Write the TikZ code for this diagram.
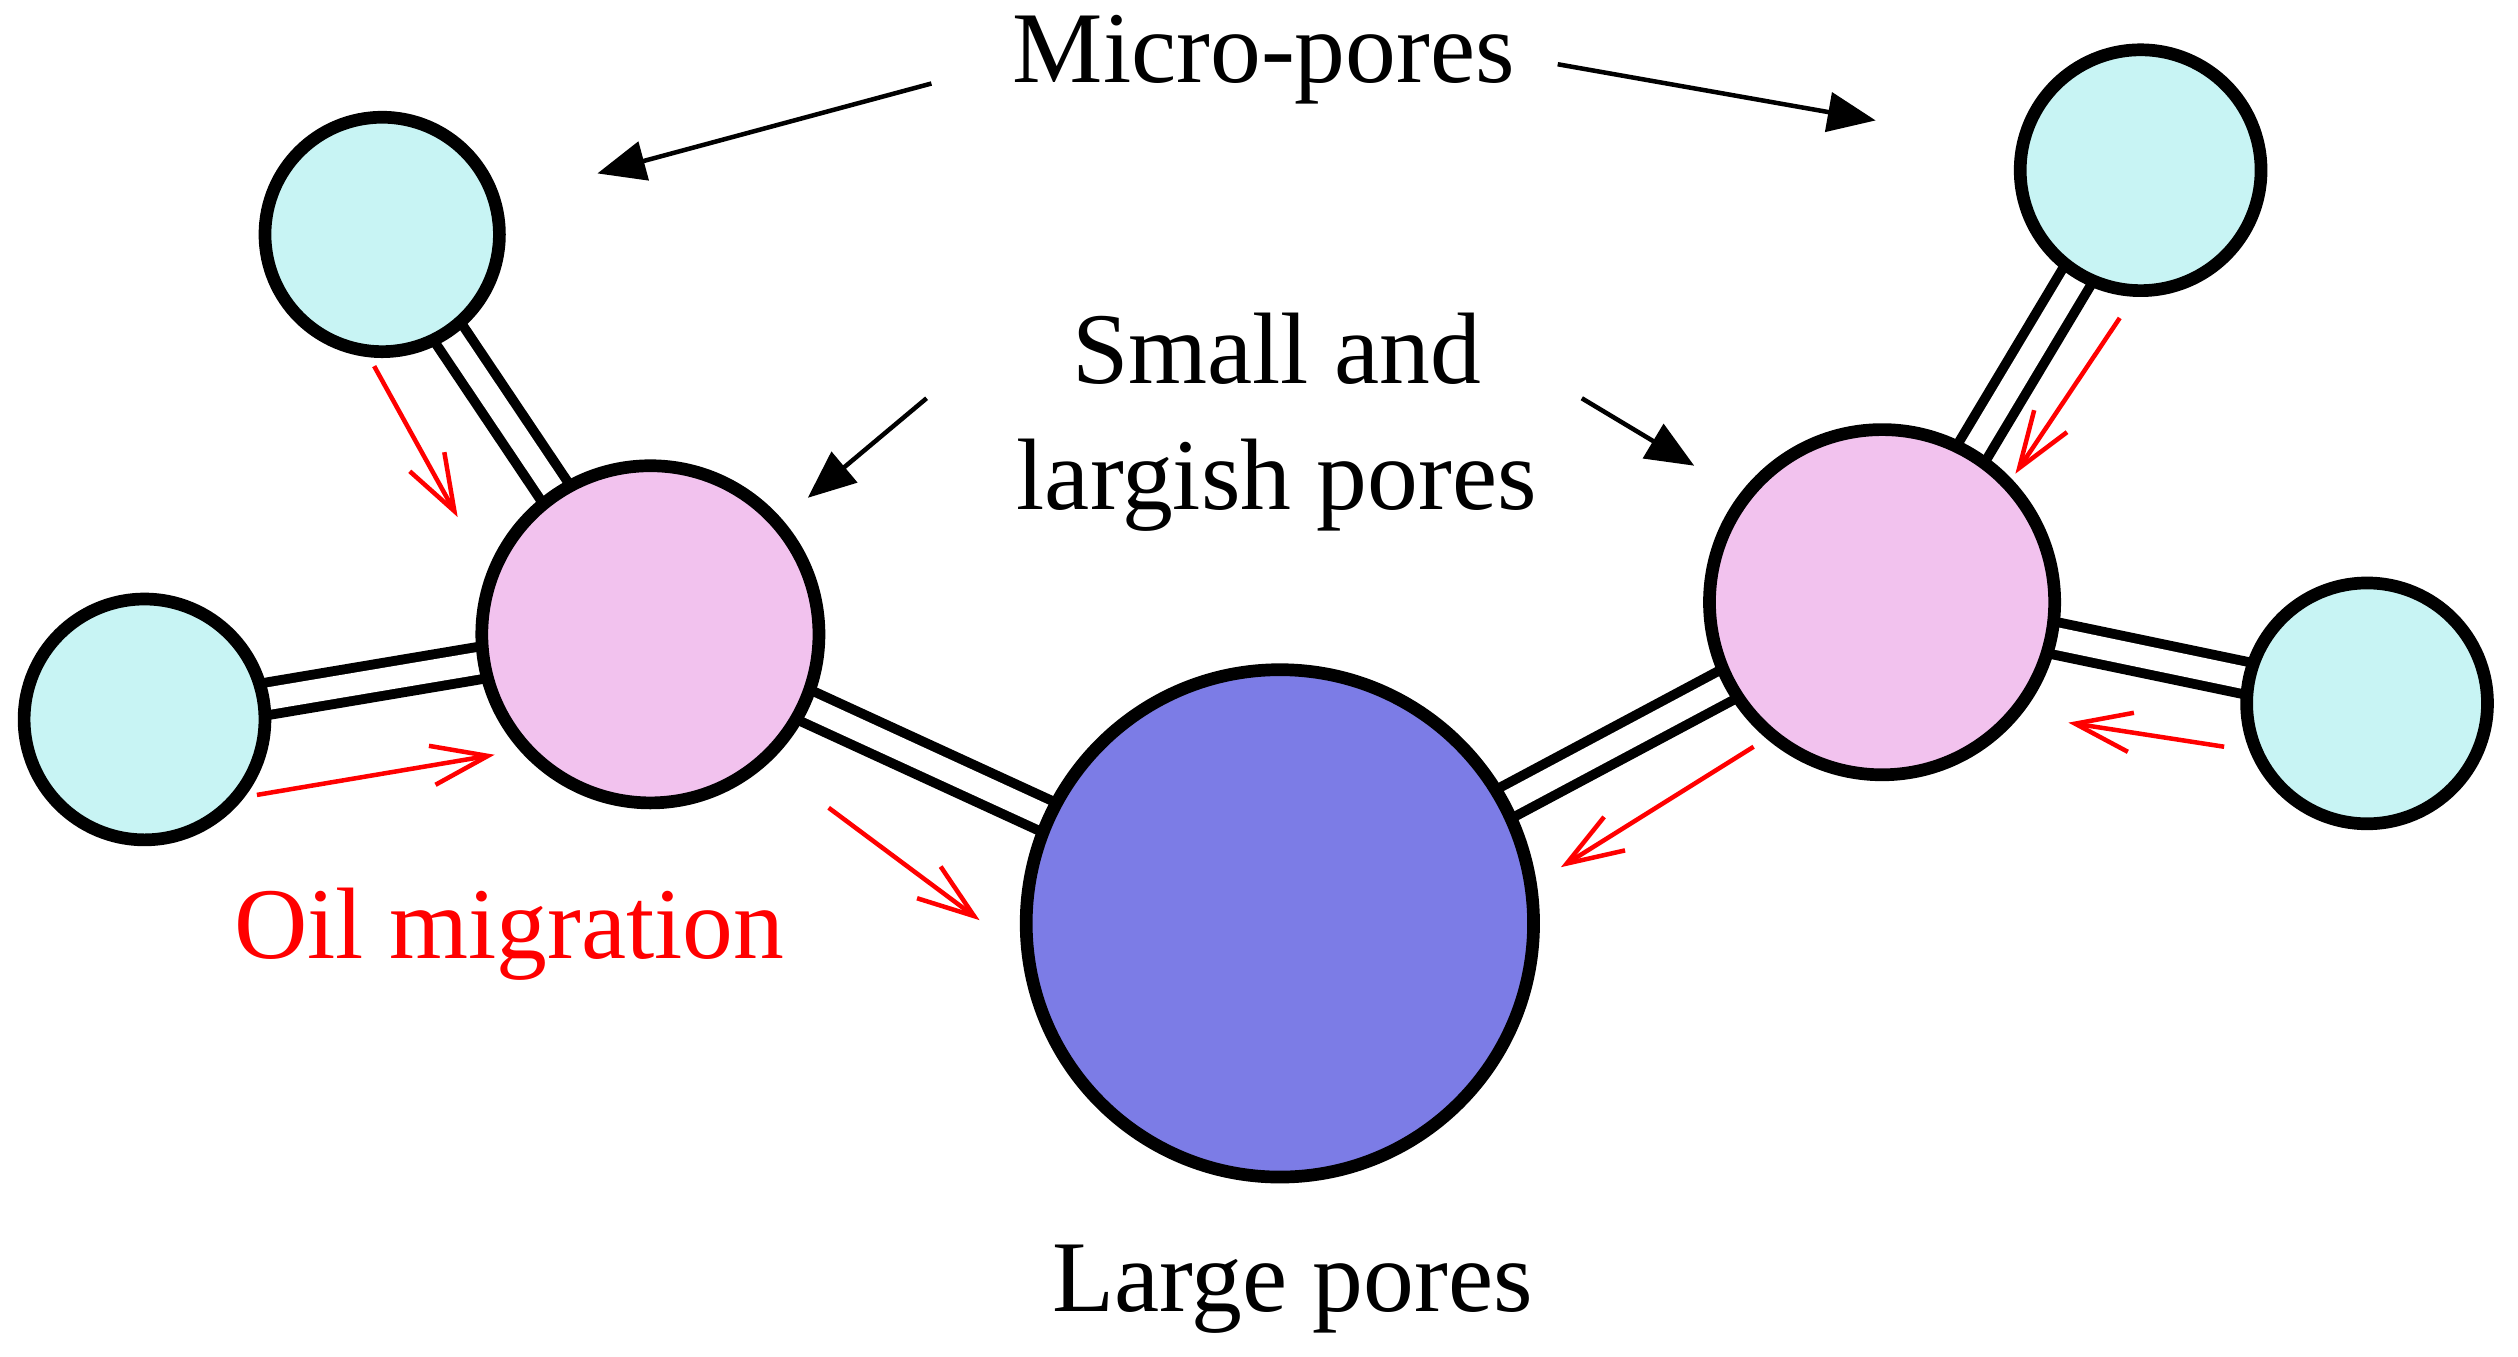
\documentclass[tikz,border=0pt]{standalone}
\usepackage{fontspec}
\setmainfont{Liberation Serif}
\usetikzlibrary{arrows.meta}
\definecolor{micro}{HTML}{C8F4F4}
\definecolor{small}{HTML}{F2C2EE}
\definecolor{large}{HTML}{7C7CE6}
\definecolor{oil}{HTML}{FF0000}
\begin{document}
\begin{tikzpicture}[x=0.02cm,y=-0.02cm,
  pore/.style={circle,draw=black,line width=4.5pt,inner sep=0pt},
  tubeo/.style={line width=15pt,black},
  tubei/.style={line width=8pt,white},
  blk/.style={-{Triangle[length=17pt,width=14pt]},line width=1.6pt},
  red/.style={oil,-{Straight Barb[length=20pt,width=14pt]},line width=1.6pt},
  lab/.style={font=\fontsize{36}{42}\selectfont}]
\useasboundingbox (0,0) rectangle (1568,845);
\coordinate (ctl) at (238,146);
\coordinate (cl) at (90,448);
\coordinate (cpl) at (405,395);
\coordinate (cL) at (797,575);
\coordinate (cpr) at (1172,375);
\coordinate (ctr) at (1333,106);
\coordinate (cr) at (1474,438);
\foreach \a/\b in {ctl/cpl,cl/cpl,cpl/cL,cL/cpr,cpr/ctr,cpr/cr}{
  \draw[tubeo] (\a) -- (\b);
  \draw[tubei] (\a) -- (\b);}
\node[pore,fill=micro,minimum size=2.92cm] (tl) at (ctl) {};
\node[pore,fill=micro,minimum size=3cm] (l) at (cl) {};
\node[pore,fill=small,minimum size=4.2cm] (pl) at (cpl) {};
\node[pore,fill=large,minimum size=6.32cm] (L) at (cL) {};
\node[pore,fill=small,minimum size=4.3cm] (pr) at (cpr) {};
\node[pore,fill=micro,minimum size=3cm] (tr) at (ctr) {};
\node[pore,fill=micro,minimum size=3cm] (r) at (cr) {};
\node[lab] (mp) at (787,37) {Micro-pores};
\node[lab] (sa) at (795,217) {Small and};
\node[lab] (lp) at (795,302) {largish pores};
\node[lab] (lg) at (805,803) {Large pores};
\node[lab,text=oil] (om) at (317,582) {Oil migration};
\coordinate (a1s) at (580,52); \coordinate (a1e) at (372,108);
\coordinate (a2s) at (970,40); \coordinate (a2e) at (1168,75);
\coordinate (a3s) at (577,248); \coordinate (a3e) at (503,310);
\coordinate (a4s) at (985,248); \coordinate (a4e) at (1055,290);
\draw[blk] (a1s) -- (a1e);
\draw[blk] (a2s) -- (a2e);
\draw[blk] (a3s) -- (a3e);
\draw[blk] (a4s) -- (a4e);
\coordinate (r1s) at (233,228); \coordinate (r1e) at (285,322);
\coordinate (r2s) at (160,495); \coordinate (r2e) at (308,470);
\coordinate (r3s) at (516,503); \coordinate (r3e) at (610,573);
\coordinate (r4s) at (1320,198); \coordinate (r4e) at (1255,295);
\coordinate (r5s) at (1092,465); \coordinate (r5e) at (972,540);
\coordinate (r6s) at (1385,465); \coordinate (r6e) at (1288,450);
\draw[red] (r1s) -- (r1e);
\draw[red] (r2s) -- (r2e);
\draw[red] (r3s) -- (r3e);
\draw[red] (r4s) -- (r4e);
\draw[red] (r5s) -- (r5e);
\draw[red] (r6s) -- (r6e);
\end{tikzpicture}
\end{document}
